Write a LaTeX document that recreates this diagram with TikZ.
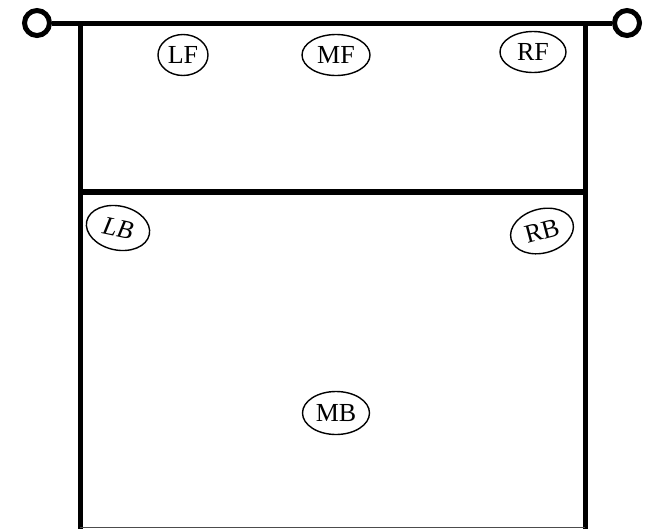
\documentclass[tikz,border=0pt]{standalone}
\usepackage{fontspec}
\setmainfont{Liberation Serif}
\usepackage{xcolor}
\usetikzlibrary{positioning,calc,shapes.geometric}

\begin{document}
\begin{tikzpicture}[
  x=1pt, y=-1pt,
  font=\fontsize{26}{30}\selectfont,
  court/.style={line width=5pt, line cap=rect},
  netline/.style={line width=5pt},
  post/.style={circle, draw, line width=5pt, minimum size=25pt, inner sep=0pt},
  player/.style={ellipse, draw, line width=1.4pt, minimum width=50pt, minimum height=41pt, inner sep=0pt},
]
\useasboundingbox (0,0) rectangle (651,528);
% net posts
\node[post] (pl) at (37,23) {};
\node[post] (pr) at (627,23) {};
\draw[netline] (pl.east) -- (pr.west);
% court lines
\coordinate (tl) at (80,23);
\coordinate (tr) at (585,23);
\coordinate (bl) at (80,528);
\coordinate (br) at (585,528);
\coordinate (ml) at (80,192);
\coordinate (mr) at (585,192);
\draw[court] (tl) -- (bl);
\draw[court] (tr) -- (br);
\draw[line width=5.5pt] (ml) -- (mr);
\draw[line width=1pt, black!70] ($(bl)+(0,-1)$) -- ($(br)+(0,-1)$);
% players
\node[player] (lf) at (183,55) {LF};
\node[player, minimum width=68pt] (mf) at (336,55) {MF};
\node[player, minimum width=66pt] (rf) at (533,52) {RF};
\node[player, minimum width=64pt, minimum height=44pt, rotate=-12] (lb) at (118,228) {\itshape LB};
\node[player, minimum width=64pt, minimum height=44pt, rotate=15] (rb) at (542,231) {RB};
\node[player, minimum width=67pt, minimum height=43pt] (mb) at (336,413) {MB};
\end{tikzpicture}
\end{document}
